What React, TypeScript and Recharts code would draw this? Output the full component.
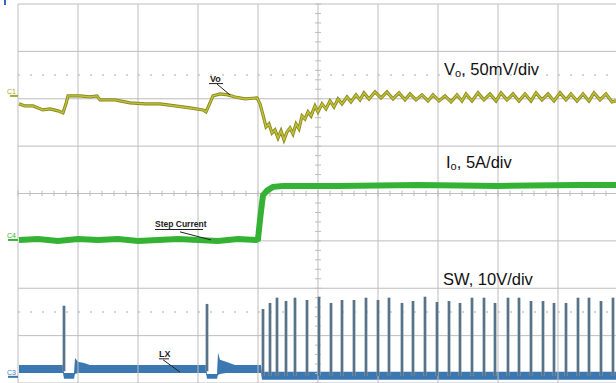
import React from 'react';
import {
  ComposedChart, Line, Area, XAxis, YAxis, ReferenceLine, ReferenceDot,
} from 'recharts';

// scope record: time in samples (60 per division, 10 divisions), vertical in divisions (8)
const GRID_T = [0, 60, 120, 180, 240, 300, 360, 420, 480, 540, 600];
const GRID_Y = [0, 1, 2, 3, 4, 5, 6, 7, 8];
const MINOR_Y = Array.from({ length: 41 }, (_, i) => i * 0.2);
const MINOR_T = Array.from({ length: 51 }, (_, i) => i * 12);
const HALF_Y = [1.5, 6.5];

// channel offsets (divisions from bottom) and scales
const VO_ZERO = 6.06; // C1, 50 mV/div
const IO_ZERO = 3.02; // C4, 5 A/div
const SW_ZERO = 0.13; // C3, 10 V/div

// C1: Vo (mV)
const voT = [1, 7, 15, 25, 32, 40, 45, 48, 50, 62, 72, 79, 82, 97, 112, 127, 142, 157, 172, 185,
  188, 192, 195, 202, 210, 217, 227, 239, 242, 245, 248, 251, 254, 257, 260, 263, 266, 269,
  272, 275, 278, 281, 284, 287, 290, 293, 297, 300, 304, 308, 312, 316, 320, 324, 329, 333, 338, 342,
  346, 351, 357, 363, 369, 375, 381, 387, 392, 398, 404, 410, 415, 421, 427, 433, 439, 444, 448, 454,
  460, 466, 472, 478, 483, 489, 495, 501, 507, 513, 518, 524, 530, 536, 542, 548, 553, 559, 565, 571,
  576, 582, 588, 594, 598];
const voMv = [-8.4, -10.6, -10.6, -14.8, -13.7, -15.8, -17.9, -8.4, 0, 0, -1.1, 0, -4.2, -4.2, -7.4, -8.4, -8.4, -10.6, -12.7, -14.8,
  -16.9, -7.4, 0, 2.1, 1.1, -1.1, -3.2, -2.1, -8.4, -20.1, -32.7, -29.6, -39.1, -35.9, -44.3, -36.9, -46.4, -38.0,
  -33.8, -40.1, -29.6, -34.8, -21.1, -24.3, -16.9, -21.1, -10.6, -16.9, -8.4, -13.7, -5.3, -11.6, -3.2, -8.4, -1.1, -6.3, 1.1, -4.2,
  3.2, -3.2, 4.2, -2.1, 4.2, -3.2, 3.2, -4.2, 2.1, -4.2, 1.1, -5.3, 1.1, -5.3, 0, -6.3, 1.1, -5.3, 2.1, -5.3,
  3.2, -4.2, 2.1, -5.3, 3.2, -4.2, 2.1, -5.3, 2.1, -5.3, 3.2, -4.2, 2.1, -5.3, 3.2, -4.2, 2.1, -5.3, 2.1, -5.3,
  3.2, -4.2, 2.1, -6.3, -5.3];

// C4: Io (A)
const ioT = [1, 20, 40, 60, 80, 100, 120, 140, 160, 180, 200, 220, 238, 240, 242, 244, 245, 249, 255, 265, 320, 400, 480, 560, 598];
const ioA = [0, 0.1, -0.1, 0.1, 0, 0.1, -0.1, 0, 0.1, 0, -0.1, 0.1, 0, 0.1, 2.1, 3.9, 4.7, 5.2, 5.6, 5.7, 5.7, 5.8, 5.7, 5.8, 5.8];

// C3: SW (V) - noise band and switching spikes
const swT = [1, 45, 46, 56, 57, 60, 66, 72, 188, 189, 199, 200, 202, 208, 217, 243, 244, 600];
const swLo = [0.8, 0.8, -0.4, -0.4, 0.6, 0.8, 0.8, 0.8, 0.8, -0.4, -0.4, 0.4, 0.6, 0.8, 0.8, 0.8, -0.6, -0.6];
const swHi = [2.5, 2.5, 0.8, 0.8, 4.0, 3.2, 2.9, 2.5, 2.5, 0.6, 0.6, 5.1, 3.6, 3.2, 2.5, 2.5, 1.1, 1.1];
const spikeT = [46, 189, 245, 252, 259, 268, 277, 289, 301, 313, 324, 336, 348, 360, 371, 384, 395,
  407, 419, 431, 442, 454, 466, 477, 490, 501, 513, 525, 536, 548, 560, 571, 583, 595];
const spikeV = [15.0, 15.4, 14.3, 15.6, 16.7, 16.0, 16.7, 16.2, 16.9, 15.6, 16.2, 16.2, 16.7, 16.2, 16.7, 15.6, 16.0,
  16.9, 15.8, 16.0, 15.6, 16.7, 16.7, 15.6, 16.7, 16.7, 16.0, 16.0, 15.6, 15.6, 16.7, 16.7, 16.0, 16.7];

const FONT = '"Liberation Sans", Arial, sans-serif';
const GRID = '#bdbdbd';
const C1 = '#a8a82c';
const C4 = '#34b234';
const C3 = '#3b78b2';

const textAt = (children: React.ReactNode, size: number, fill = '#111', weight = 400) =>
  (props: any) => (
    <text x={props.viewBox.x} y={props.viewBox.y} fontSize={size} fill={fill}
      fontWeight={weight} fontFamily={FONT}>{children}</text>
  );

export default function App() {
  const vo = voT.map((t, i) => ({ t, v: voMv[i] }));
  const io = ioT.map((t, i) => ({ t, v: ioA[i] }));
  const band = swT.map((t, i) => ({ t, r: [swLo[i], swHi[i]] }));
  const spikes = spikeT.flatMap((t, i) => [
    { t, v: t < 244 ? 1.2 : 0.2 },
    { t, v: spikeV[i] },
    { t: t + 0.01, v: null },
  ]);

  return (
    <div style={{ position: 'absolute', left: 0, top: 0, width: 616, height: 383, overflow: 'hidden', background: '#fff' }}>
      <div style={{ position: 'absolute', left: 4, top: 0, width: 2, height: 5, background: '#3a62c8' }} />
      <ComposedChart width={620} height={383} margin={{ top: 4, right: 2, bottom: 0, left: 18 }}>
        <XAxis type="number" dataKey="t" domain={[0, 600]} hide allowDataOverflow />
        <YAxis yAxisId="div" type="number" domain={[0, 8]} hide allowDataOverflow />
        <YAxis yAxisId="vo" type="number" domain={[-VO_ZERO * 50, (8 - VO_ZERO) * 50]} hide allowDataOverflow />
        <YAxis yAxisId="io" type="number" domain={[-IO_ZERO * 5, (8 - IO_ZERO) * 5]} hide allowDataOverflow />
        <YAxis yAxisId="sw" type="number" domain={[-SW_ZERO * 10, (8 - SW_ZERO) * 10]} hide allowDataOverflow />

        {GRID_T.map(t => <ReferenceLine key={'gx' + t} yAxisId="div" x={t} stroke={GRID} />)}
        {GRID_Y.map(y => <ReferenceLine key={'gy' + y} yAxisId="div" y={y} stroke={GRID} />)}
        {HALF_Y.map(y => <ReferenceLine key={'hy' + y} yAxisId="div" y={y} stroke="#c8c8c8" strokeWidth={1.5} strokeDasharray="2 10" />)}
        {MINOR_Y.map(y => (
          <ReferenceLine key={'my' + y} yAxisId="div" segment={[{ x: 297, y }, { x: 303, y }]} stroke={GRID} />
        ))}
        {MINOR_T.map(t => (
          <ReferenceLine key={'mt' + t} yAxisId="div" segment={[{ x: t, y: 3.94 }, { x: t, y: 4.06 }]} stroke={GRID} />
        ))}

        <Area data={band} yAxisId="sw" dataKey="r" type="linear" stroke="none" fill={C3} fillOpacity={1} isAnimationActive={false} />
        <Line data={spikes} yAxisId="sw" dataKey="v" type="linear" stroke="#8a9aa8" strokeWidth={3} dot={false} connectNulls={false} isAnimationActive={false} />
        <Line data={spikes} yAxisId="sw" dataKey="v" type="linear" stroke="#244c6c" strokeWidth={1} dot={false} connectNulls={false} isAnimationActive={false} />

        <Line data={io} yAxisId="io" dataKey="v" type="linear" stroke={C4} strokeWidth={6} dot={false} isAnimationActive={false} />

        <Line data={vo} yAxisId="vo" dataKey="v" type="linear" stroke="#8a8a1e" strokeWidth={3.2} dot={false} isAnimationActive={false} />
        <Line data={vo} yAxisId="vo" dataKey="v" type="linear" stroke="#c2c23c" strokeWidth={1.4} dot={false} isAnimationActive={false} />

        {/* channel markers */}
        <ReferenceLine yAxisId="vo" segment={[{ x: -8, y: 0 }, { x: 0, y: 0 }]} ifOverflow="visible" stroke={C1} strokeWidth={2} />
        <ReferenceLine yAxisId="io" segment={[{ x: -10, y: 0 }, { x: 0, y: 0 }]} ifOverflow="visible" stroke={C4} strokeWidth={2} />
        <ReferenceLine yAxisId="sw" segment={[{ x: -10, y: 0 }, { x: 0, y: 0 }]} ifOverflow="visible" stroke={C3} strokeWidth={2} />
        <ReferenceDot yAxisId="div" x={-11} y={6.1} r={0} ifOverflow="visible" label={textAt('C1', 7, C1)} />
        <ReferenceDot yAxisId="div" x={-11} y={3.07} r={0} ifOverflow="visible" label={textAt('C4', 7, C4)} />
        <ReferenceDot yAxisId="div" x={-11} y={0.17} r={0} ifOverflow="visible" label={textAt('C3', 7, C3)} />

        {/* probe annotations */}
        <ReferenceDot yAxisId="div" x={192} y={6.35} r={0} label={textAt('Vo', 9, '#222', 700)} />
        <ReferenceLine yAxisId="div" segment={[{ x: 191, y: 6.32 }, { x: 205, y: 6.32 }]} stroke="#222" />
        <ReferenceLine yAxisId="div" segment={[{ x: 199, y: 6.31 }, { x: 212, y: 6.08 }]} stroke="#222" />

        <ReferenceDot yAxisId="div" x={137} y={3.29} r={0} label={textAt('Step Current', 8.5, '#222', 700)} />
        <ReferenceLine yAxisId="div" segment={[{ x: 137, y: 3.24 }, { x: 185, y: 3.24 }]} stroke="#222" />
        <ReferenceLine yAxisId="div" segment={[{ x: 162, y: 3.19 }, { x: 193, y: 3.02 }]} stroke="#222" />

        <ReferenceDot yAxisId="div" x={141} y={0.55} r={0} label={textAt('LX', 9, '#222', 700)} />
        <ReferenceLine yAxisId="div" segment={[{ x: 141, y: 0.51 }, { x: 151, y: 0.51 }]} stroke="#222" />
        <ReferenceLine yAxisId="div" segment={[{ x: 145, y: 0.49 }, { x: 162, y: 0.23 }]} stroke="#222" />

        {/* channel scale notes */}
        <ReferenceDot yAxisId="div" x={426} y={6.5} r={0}
          label={textAt(<>V<tspan fontSize={11} dy={2}>o</tspan><tspan dy={-2}>, 50mV/div</tspan></>, 16.5)} />
        <ReferenceDot yAxisId="div" x={428} y={4.54} r={0}
          label={textAt(<>I<tspan fontSize={11} dy={2}>o</tspan><tspan dy={-2}>, 5A/div</tspan></>, 16.5)} />
        <ReferenceDot yAxisId="div" x={425} y={2.07} r={0} label={textAt('SW, 10V/div', 16.5)} />
      </ComposedChart>
    </div>
  );
}
